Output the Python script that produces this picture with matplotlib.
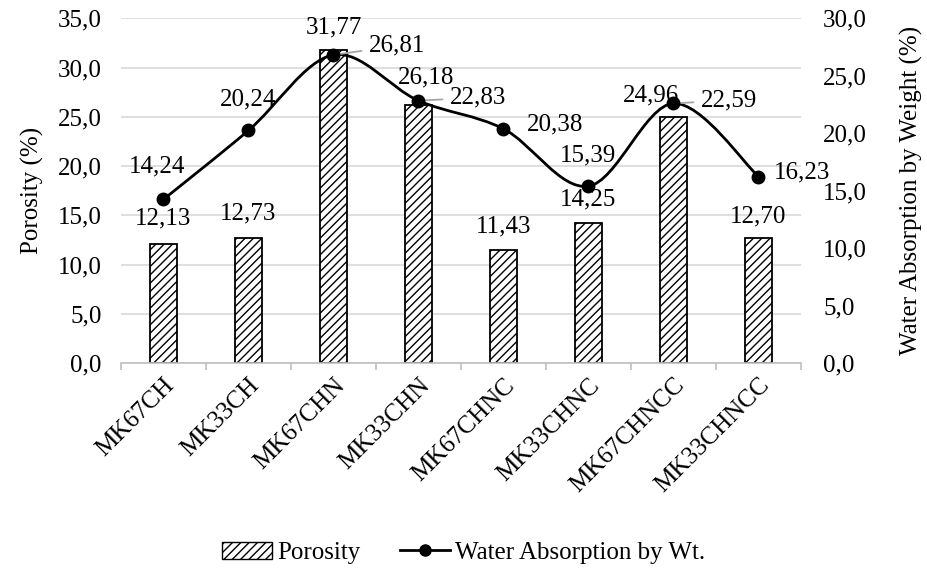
import numpy as np
import matplotlib
matplotlib.use("Agg")
import matplotlib.pyplot as plt
from matplotlib.path import Path
from matplotlib.patches import PathPatch, Patch
from matplotlib.lines import Line2D
from matplotlib.ticker import FuncFormatter, FixedLocator

plt.rcParams['font.family'] = ['Liberation Serif', 'DejaVu Serif']
plt.rcParams['hatch.linewidth'] = 1.0
FS = 18

samples = ["MK67CH", "MK33CH", "MK67CHN", "MK33CHN",
           "MK67CHNC", "MK33CHNC", "MK67CHNCC", "MK33CHNCC"]
porosity = [12.13, 12.73, 31.77, 26.18, 11.43, 14.25, 24.96, 12.70]
absorption = [14.24, 20.24, 26.81, 22.83, 20.38, 15.39, 22.59, 16.23]

# label placement in pixels: (dx, dy, horizontal alignment, leader line)
bar_lab = [(0, 25), (0, 24), (0, 23), (8, 28), (0, 24), (0, 23), (-22, 22), (0, 22)]
line_lab = [(-6, 33, "center", False), (0, 31, "center", False),
            (35, 9, "left", True), (31, 3, "left", True),
            (23, 4, "left", False), (0, 31, "center", False),
            (27, 3, "left", True), (15, 4, "left", False)]
PT = 0.72  # points per pixel at 100 dpi

comma = FuncFormatter(lambda v, p: f"{v:.1f}".replace(".", ","))

fig = plt.figure(figsize=(9.27, 5.70), dpi=100)
ax = fig.add_axes([0.1305, 0.363, 0.7335, 0.605])
ax2 = ax.twinx()

x = np.arange(len(samples))
ax.bar(x, porosity, width=0.32, color="white", edgecolor="black",
       linewidth=1.3, hatch="////", zorder=2)
for xi, v, (dx, dy) in zip(x, porosity, bar_lab):
    ax.annotate(f"{v:.2f}".replace(".", ","), (xi, v), xytext=(dx * PT, dy * PT),
                textcoords="offset points", ha="center", va="center", fontsize=FS)

ax.set_xlim(-0.5, len(samples) - 0.5)
ax.set_ylim(0, 35)
ax.set_yticks(np.arange(0, 35.1, 5))
ax.yaxis.set_major_formatter(comma)
ax.grid(axis="y", color="#d9d9d9", linewidth=1.2, zorder=0)
ax.set_axisbelow(True)
ax.set_xticks(x)
ax.set_xticklabels(samples, rotation=45, ha="right", rotation_mode="anchor", fontsize=FS)
ax.xaxis.set_minor_locator(FixedLocator(np.arange(-0.5, len(samples), 1)))
ax.tick_params(axis="x", which="major", length=0, pad=8)
ax.tick_params(axis="x", which="minor", length=5, color="#bfbfbf", width=1.2)
ax.tick_params(axis="y", length=0, labelsize=FS, pad=14)
for s in ["top", "left", "right"]:
    ax.spines[s].set_visible(False)
ax.spines["bottom"].set_color("#bfbfbf")
ax.spines["bottom"].set_linewidth(1.2)
ax.set_ylabel("Porosity (%)", fontsize=FS, labelpad=10)

ax2.set_ylim(0, 30)
ax2.set_yticks(np.arange(0, 30.1, 5))
ax2.yaxis.set_major_formatter(comma)
ax2.tick_params(axis="y", length=0, labelsize=FS, pad=16)
for s in ax2.spines.values():
    s.set_visible(False)
ax2.set_ylabel("Water Absorption by Weight (%)", fontsize=FS, labelpad=24)

# smoothed line through the absorption values (Catmull-Rom as cubic Bezier)
pts = np.column_stack([x, absorption]).astype(float)
verts = [pts[0]]
codes = [Path.MOVETO]
n = len(pts)
for i in range(n - 1):
    p0 = pts[max(i - 1, 0)]
    p1 = pts[i]
    p2 = pts[i + 1]
    p3 = pts[min(i + 2, n - 1)]
    verts += [p1 + (p2 - p0) / 6.0, p2 - (p3 - p1) / 6.0, p2]
    codes += [Path.CURVE4] * 3
ax2.add_patch(PathPatch(Path(verts, codes), facecolor="none", edgecolor="black",
                        linewidth=2.0, zorder=3))
ax2.plot(x, absorption, linestyle="none", marker="o", markersize=9,
         color="black", zorder=4)

for xi, v, (dx, dy, ha, lead) in zip(x, absorption, line_lab):
    txt = f"{v:.2f}".replace(".", ",")
    props = None
    if lead:
        props = dict(arrowstyle="-", color="#a6a6a6", lw=1.3, shrinkA=3, shrinkB=2)
    ax2.annotate(txt, (xi, v), xytext=(dx * PT, dy * PT), textcoords="offset points",
                 ha=ha, va="center", fontsize=FS, arrowprops=props)

handles = [Patch(facecolor="white", edgecolor="black", hatch="////", linewidth=1.0),
           Line2D([], [], color="black", linewidth=2.0, marker="o", markersize=8)]
fig.legend(handles, ["Porosity", "Water Absorption by Wt."], loc="center",
           bbox_to_anchor=(0.5, 0.03), ncol=2, frameon=False, fontsize=FS,
           handlelength=2.0, columnspacing=1.6, handletextpad=0.2)

fig.savefig("out.png", dpi=100)
